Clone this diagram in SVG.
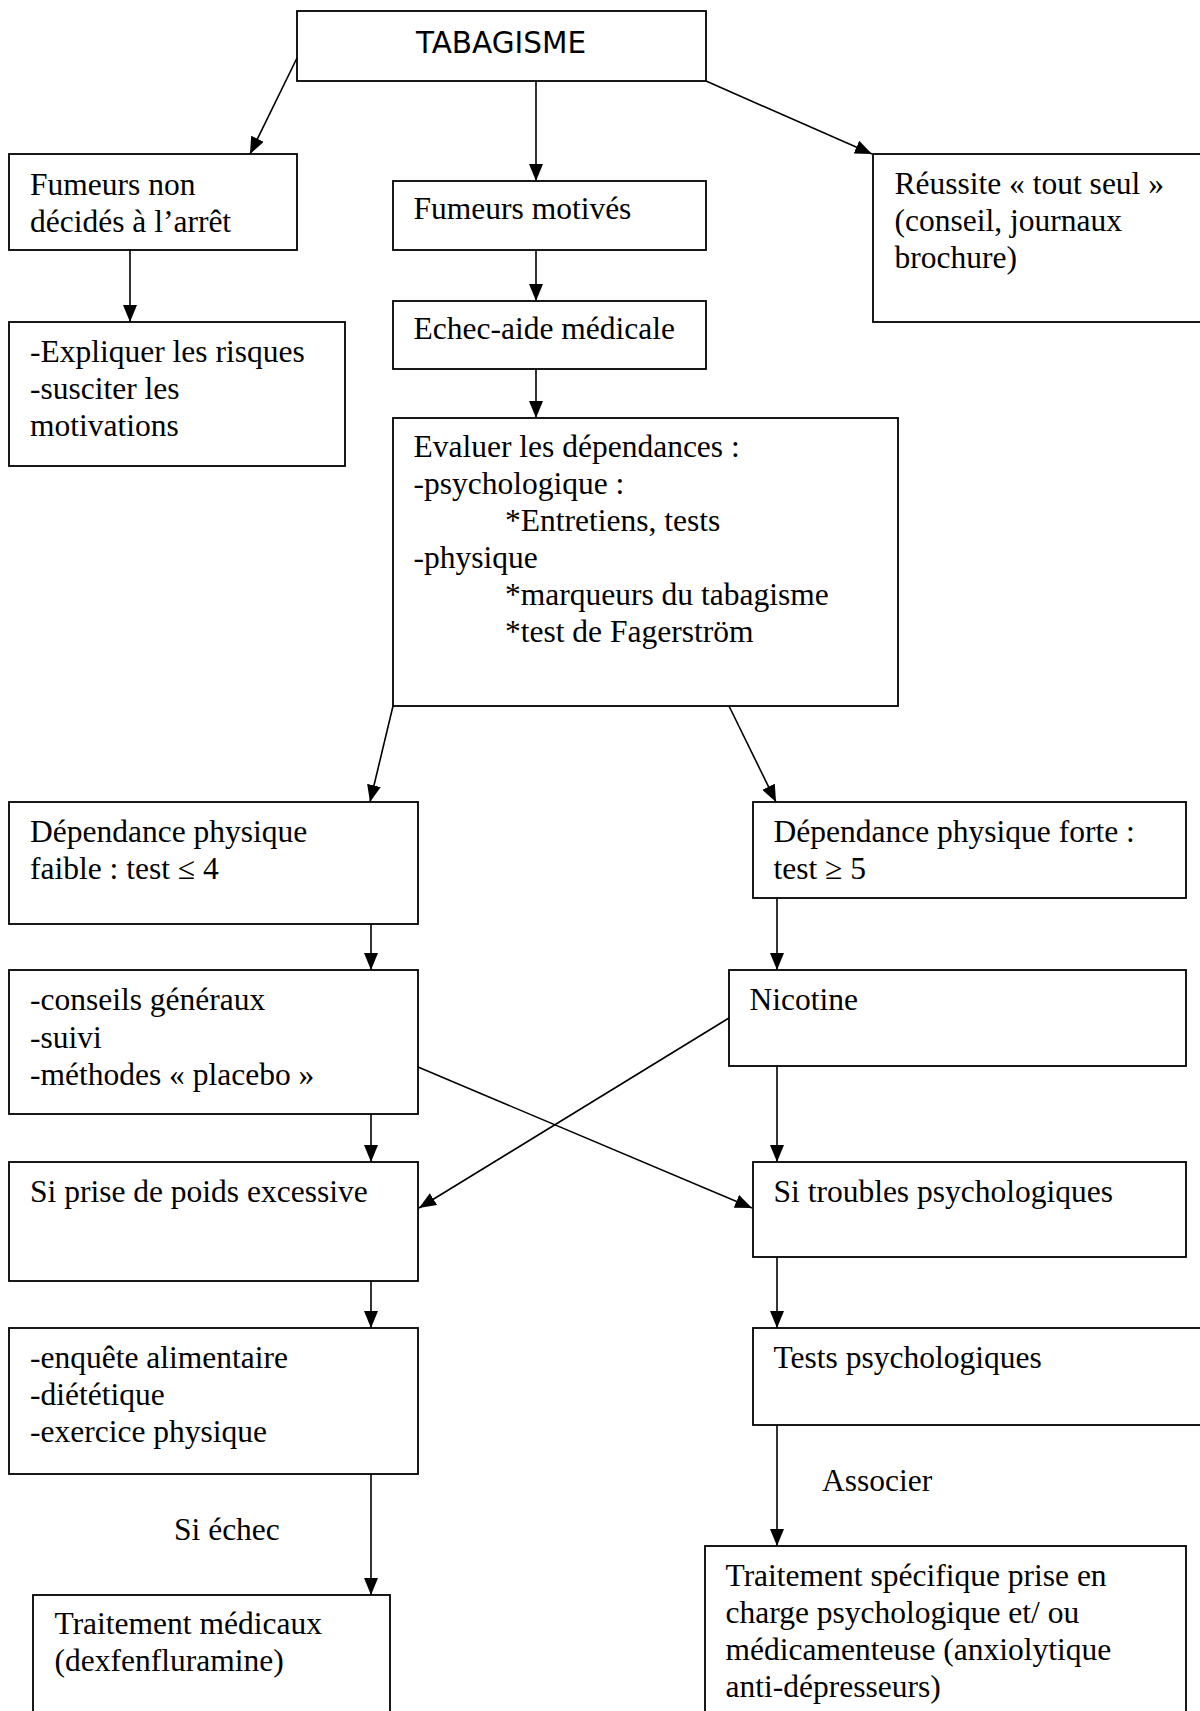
<svg xmlns="http://www.w3.org/2000/svg" width="1200" height="1711" viewBox="0 0 1200 1711">
<style>
.box{fill:#fff;stroke:#000;stroke-width:1.8}
.t{font-family:"Liberation Serif","Times New Roman",serif;font-size:31.5px;fill:#000}
.h{font-family:"DejaVu Sans",Verdana,sans-serif;font-size:29.5px;fill:#000}
.c{stroke:#000;stroke-width:1.6;fill:none;marker-end:url(#ah)}
</style>
<defs>
<marker id="ah" markerUnits="userSpaceOnUse" markerWidth="17" markerHeight="14" refX="17" refY="7" orient="auto">
<path d="M0,0 L17,7 L0,14 z" fill="#000"/>
</marker>
</defs>
<rect width="1200" height="1711" fill="#fff"/>
<g id="connectors">
<line class="c" x1="297" y1="58" x2="250" y2="154"/>
<line class="c" x1="536" y1="81" x2="536" y2="181"/>
<line class="c" x1="706" y1="81" x2="872" y2="154"/>
<line class="c" x1="130" y1="250" x2="130" y2="322"/>
<line class="c" x1="536" y1="250" x2="536" y2="301"/>
<line class="c" x1="536" y1="369" x2="536" y2="418"/>
<line class="c" x1="393" y1="706" x2="370" y2="802"/>
<line class="c" x1="729" y1="706" x2="776" y2="802"/>
<line class="c" x1="371" y1="924" x2="371" y2="970"/>
<line class="c" x1="777" y1="898" x2="777" y2="970"/>
<line class="c" x1="418" y1="1067" x2="752" y2="1208"/>
<line class="c" x1="729" y1="1018" x2="419" y2="1208"/>
<line class="c" x1="371" y1="1114" x2="371" y2="1162"/>
<line class="c" x1="777" y1="1066" x2="777" y2="1162"/>
<line class="c" x1="371" y1="1281" x2="371" y2="1328"/>
<line class="c" x1="777" y1="1257" x2="777" y2="1328"/>
<line class="c" x1="371" y1="1474" x2="371" y2="1595"/>
<line class="c" x1="777" y1="1425" x2="777" y2="1546"/>
<text class="t" x="174" y="1540">Si échec</text>
<text class="t" x="822" y="1491">Associer</text>
</g>
<g id="n-tabagisme">
<rect class="box" x="297" y="11" width="409" height="70"/>
<text class="h" x="501" y="53" text-anchor="middle">TABAGISME</text>
</g>
<g id="n-non-decides">
<rect class="box" x="9" y="154" width="288" height="96"/>
<text class="t" x="30" y="195">Fumeurs non</text>
<text class="t" x="30" y="232">décidés à l’arrêt</text>
</g>
<g id="n-motives">
<rect class="box" x="393" y="181" width="313" height="69"/>
<text class="t" x="413.5" y="219">Fumeurs motivés</text>
</g>
<g id="n-reussite">
<rect class="box" x="873" y="154" width="340" height="168"/>
<text class="t" x="894.5" y="194">Réussite « tout seul »</text>
<text class="t" x="894.5" y="231">(conseil, journaux</text>
<text class="t" x="894.5" y="268">brochure)</text>
</g>
<g id="n-expliquer">
<rect class="box" x="9" y="322" width="336" height="144"/>
<text class="t" x="30" y="362">-Expliquer les risques</text>
<text class="t" x="30" y="399">-susciter les</text>
<text class="t" x="30" y="436">motivations</text>
</g>
<g id="n-echec">
<rect class="box" x="393" y="301" width="313" height="68"/>
<text class="t" x="413.5" y="339">Echec-aide médicale</text>
</g>
<g id="n-evaluer">
<rect class="box" x="393" y="418" width="505" height="288"/>
<text class="t" x="413.5" y="457">Evaluer les dépendances :</text>
<text class="t" x="413.5" y="494">-psychologique :</text>
<text class="t" x="505" y="531">*Entretiens, tests</text>
<text class="t" x="413.5" y="568">-physique</text>
<text class="t" x="505" y="605">*marqueurs du tabagisme</text>
<text class="t" x="505" y="642">*test de Fagerström</text>
</g>
<g id="n-faible">
<rect class="box" x="9" y="802" width="409" height="122"/>
<text class="t" x="30" y="842">Dépendance physique</text>
<text class="t" x="30" y="879">faible : test ≤ 4</text>
</g>
<g id="n-forte">
<rect class="box" x="753" y="802" width="433" height="96"/>
<text class="t" x="773.5" y="842">Dépendance physique forte :</text>
<text class="t" x="773.5" y="879">test ≥ 5</text>
</g>
<g id="n-conseils">
<rect class="box" x="9" y="970" width="409" height="144"/>
<text class="t" x="30" y="1010">-conseils généraux</text>
<text class="t" x="30" y="1047.5">-suivi</text>
<text class="t" x="30" y="1085">-méthodes « placebo »</text>
</g>
<g id="n-nicotine">
<rect class="box" x="729" y="970" width="457" height="96"/>
<text class="t" x="749.5" y="1010">Nicotine</text>
</g>
<g id="n-poids">
<rect class="box" x="9" y="1162" width="409" height="119"/>
<text class="t" x="30" y="1202">Si prise de poids excessive</text>
</g>
<g id="n-troubles">
<rect class="box" x="753" y="1162" width="433" height="95"/>
<text class="t" x="773.5" y="1202">Si troubles psychologiques</text>
</g>
<g id="n-enquete">
<rect class="box" x="9" y="1328" width="409" height="146"/>
<text class="t" x="30" y="1368">-enquête alimentaire</text>
<text class="t" x="30" y="1405">-diététique</text>
<text class="t" x="30" y="1442">-exercice physique</text>
</g>
<g id="n-tests">
<rect class="box" x="753" y="1328" width="460" height="97"/>
<text class="t" x="773.5" y="1368">Tests psychologiques</text>
</g>
<g id="n-medicaux">
<rect class="box" x="33" y="1595" width="357" height="130"/>
<text class="t" x="54.5" y="1634">Traitement médicaux</text>
<text class="t" x="54.5" y="1671">(dexfenfluramine)</text>
</g>
<g id="n-specifique">
<rect class="box" x="705" y="1546" width="481" height="180"/>
<text class="t" x="725.5" y="1586">Traitement spécifique prise en</text>
<text class="t" x="725.5" y="1623">charge psychologique et/ ou</text>
<text class="t" x="725.5" y="1660">médicamenteuse (anxiolytique</text>
<text class="t" x="725.5" y="1697">anti-dépresseurs)</text>
</g>
</svg>
